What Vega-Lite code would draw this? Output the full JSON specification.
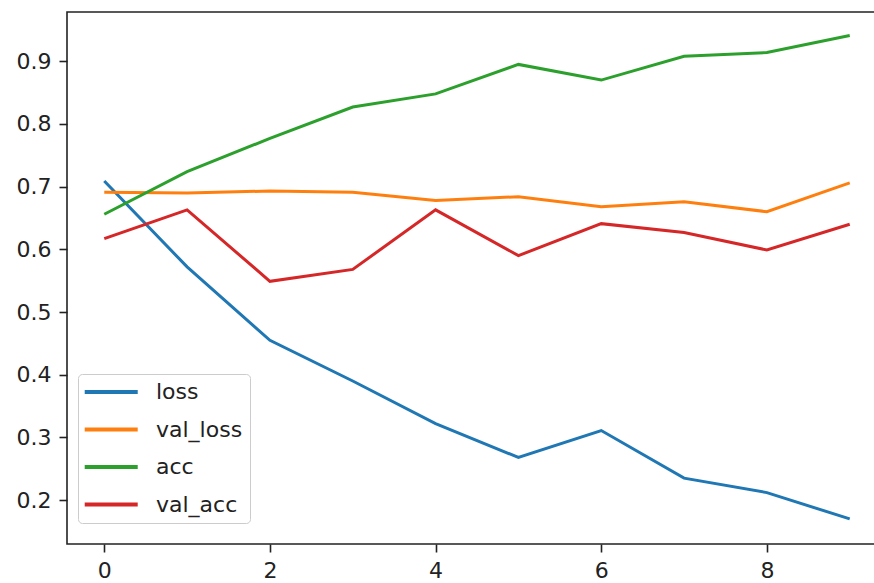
{
  "$schema": "https://vega.github.io/schema/vega-lite/v6.json",
  "width": 820,
  "height": 532,
  "autosize": {"type": "none"},
  "padding": {"left": 67, "top": 12, "right": 0, "bottom": 39},
  "background": "white",
  "config": {
    "view": {"stroke": "#222", "strokeWidth": 1.6},
    "font": "DejaVu Sans",
    "axis": {
      "grid": false,
      "domain": false,
      "labelFont": "DejaVu Sans",
      "labelFontSize": 22,
      "labelColor": "#222",
      "tickColor": "#222",
      "tickSize": 8,
      "tickWidth": 1.6,
      "labelPadding": 8,
      "title": null
    },
    "legend": {
      "labelFont": "DejaVu Sans",
      "labelFontSize": 22,
      "labelColor": "#222"
    }
  },
  "data": {
    "values": [
      {"epoch": 0, "metric": "loss", "value": 0.709},
      {"epoch": 1, "metric": "loss", "value": 0.572},
      {"epoch": 2, "metric": "loss", "value": 0.455},
      {"epoch": 3, "metric": "loss", "value": 0.390},
      {"epoch": 4, "metric": "loss", "value": 0.322},
      {"epoch": 5, "metric": "loss", "value": 0.268},
      {"epoch": 6, "metric": "loss", "value": 0.311},
      {"epoch": 7, "metric": "loss", "value": 0.235},
      {"epoch": 8, "metric": "loss", "value": 0.212},
      {"epoch": 9, "metric": "loss", "value": 0.170},
      {"epoch": 0, "metric": "val_loss", "value": 0.691},
      {"epoch": 1, "metric": "val_loss", "value": 0.690},
      {"epoch": 2, "metric": "val_loss", "value": 0.693},
      {"epoch": 3, "metric": "val_loss", "value": 0.691},
      {"epoch": 4, "metric": "val_loss", "value": 0.678},
      {"epoch": 5, "metric": "val_loss", "value": 0.684},
      {"epoch": 6, "metric": "val_loss", "value": 0.668},
      {"epoch": 7, "metric": "val_loss", "value": 0.676},
      {"epoch": 8, "metric": "val_loss", "value": 0.660},
      {"epoch": 9, "metric": "val_loss", "value": 0.706},
      {"epoch": 0, "metric": "acc", "value": 0.656},
      {"epoch": 1, "metric": "acc", "value": 0.724},
      {"epoch": 2, "metric": "acc", "value": 0.777},
      {"epoch": 3, "metric": "acc", "value": 0.827},
      {"epoch": 4, "metric": "acc", "value": 0.848},
      {"epoch": 5, "metric": "acc", "value": 0.895},
      {"epoch": 6, "metric": "acc", "value": 0.870},
      {"epoch": 7, "metric": "acc", "value": 0.908},
      {"epoch": 8, "metric": "acc", "value": 0.914},
      {"epoch": 9, "metric": "acc", "value": 0.941},
      {"epoch": 0, "metric": "val_acc", "value": 0.617},
      {"epoch": 1, "metric": "val_acc", "value": 0.663},
      {"epoch": 2, "metric": "val_acc", "value": 0.549},
      {"epoch": 3, "metric": "val_acc", "value": 0.568},
      {"epoch": 4, "metric": "val_acc", "value": 0.663},
      {"epoch": 5, "metric": "val_acc", "value": 0.590},
      {"epoch": 6, "metric": "val_acc", "value": 0.641},
      {"epoch": 7, "metric": "val_acc", "value": 0.627},
      {"epoch": 8, "metric": "val_acc", "value": 0.599},
      {"epoch": 9, "metric": "val_acc", "value": 0.640}
    ]
  },
  "mark": {"type": "line", "strokeWidth": 3, "clip": true},
  "encoding": {
    "x": {
      "field": "epoch",
      "type": "quantitative",
      "scale": {"domain": [-0.45, 9.45], "nice": false, "zero": false},
      "axis": {"values": [0, 2, 4, 6, 8], "format": "d"}
    },
    "y": {
      "field": "value",
      "type": "quantitative",
      "scale": {"domain": [0.130, 0.9786], "nice": false, "zero": false},
      "axis": {"values": [0.2, 0.3, 0.4, 0.5, 0.6, 0.7, 0.8, 0.9], "format": ".1f"}
    },
    "color": {
      "field": "metric",
      "type": "nominal",
      "scale": {
        "domain": ["loss", "val_loss", "acc", "val_acc"],
        "range": ["#1f77b4", "#ff7f0e", "#2ca02c", "#d62728"]
      },
      "legend": {
        "title": null,
        "orient": "none",
        "legendX": 11,
        "legendY": 362,
        "symbolType": "M -2.13 0 L 7.87 0",
        "symbolSize": 112.36,
        "symbolStrokeWidth": 4,
        "labelOffset": 49,
        "rowPadding": 15.5,
        "padding": 7,
        "fillColor": "rgba(255,255,255,0.8)",
        "strokeColor": "#cccccc",
        "cornerRadius": 4
      }
    }
  }
}
